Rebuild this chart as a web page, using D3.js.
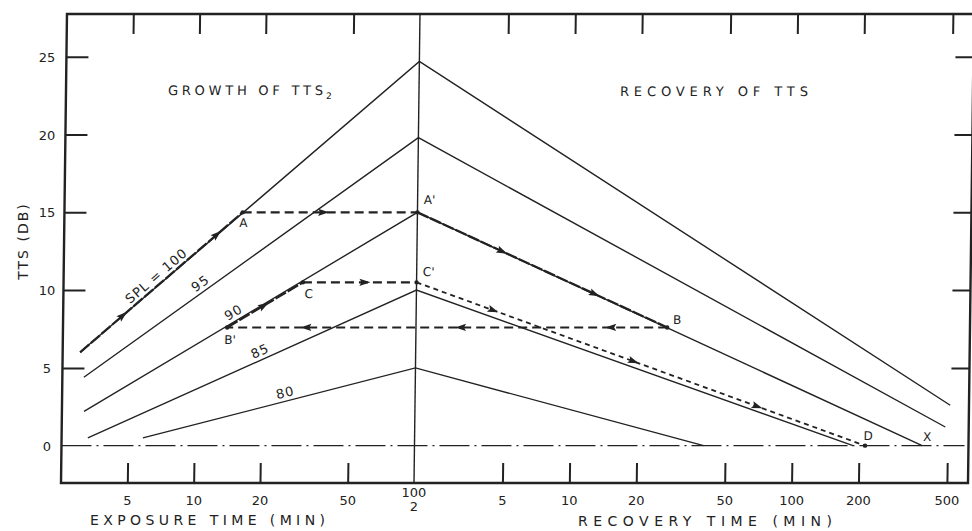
<!DOCTYPE html>
<html>
<head>
<meta charset="utf-8">
<script src="https://cdn.jsdelivr.net/npm/d3@7"></script>
<style>
  body { margin: 0; background: #fff; }
  svg { display: block; }
  text { font-family: "DejaVu Sans", sans-serif; fill: #222; }
</style>
</head>
<body>
<div id="chart"></div>
<script>
// Growth curves (exposure side), one per SPL
const splLevels = [100, 95, 90, 85, 80];
const growthStartMin = [3.0, 3.13, 3.15, 3.29, 5.85];
const growthStartTts = [6.0, 4.4, 2.2, 0.5, 0.5];
const peakTts = [24.7, 19.8, 15.0, 10.0, 5.0];
// Recovery curves, same order
const recoveryEndMin = [512, 488, 385, 188, 40];
const recoveryEndTts = [2.6, 1.2, 0, 0, 0];
// where the SPL labels sit on the growth curves (min)
const splLabelMin = [6.98, 11.0, 15.5, 20.4, 26.3];
const splLabelText = ['SPL = 100', '95', '90', '85', '80'];

// Worked example A -> A' -> B -> B' -> C -> C' -> D
const pathNames = ['A', "A'", 'B', "B'", 'C', "C'", 'D'];
const pathSide = ['exp', 'rec', 'rec', 'exp', 'exp', 'rec', 'rec'];
const pathMin = [16.1, 2, 27, 13.9, 30.5, 2, 213];
const pathTts = [15, 15, 7.6, 7.6, 10.5, 10.5, 0];
// segment i goes from point i-1 to point i (segment 0 starts on the SPL 100 curve)
const segStyle = ['heavy', 'dash', 'heavy', 'dash', 'heavy', 'dash', 'dot'];

// arrow heads along the path
const arrowSeg = [0, 0, 1, 2, 2, 3, 3, 3, 4, 5, 6, 6, 6];
const arrowSide = ['exp', 'exp', 'exp', 'rec', 'rec', 'rec', 'rec', 'exp', 'exp', 'exp', 'rec', 'rec', 'rec'];
const arrowMin = [4.8, 12.7, 38.9, 5.0, 13.1, 14.5, 3.06, 30.5, 21, 60.5, 4.6, 19.8, 71.8];

// Axis ticks
const exposureTicks = [5, 10, 20, 50];
const recoveryTicks = [5, 10, 20, 50, 100, 200, 500];
const ttsTicks = [5, 10, 15, 20, 25];
const ttsLabels = [0, 5, 10, 15, 20, 25];

const width = 972, height = 531;
const plotLeft = 61, plotMid = 414, plotRight = 968, plotTop = 14, plotBottom = 483;
const ink = '#222';

const xExp = d3.scaleLog().domain([2.5, 100]).range([plotLeft, plotMid]);
const xRec = d3.scaleLog().domain([2, 622]).range([plotMid, plotRight]);
const y = d3.scaleLinear().domain([-2.4, 27.75]).range([plotBottom, plotTop]);
const xOf = (side, t) => side === 'exp' ? xExp(t) : xRec(t);

const svg = d3.select('#chart').append('svg')
    .attr('width', width)
    .attr('height', height);

// the scanned figure leans a little: top edge sits ~6px right of the bottom
const g = svg.append('g')
    .attr('transform', `translate(0,${plotBottom}) skewX(-0.73) translate(0,${-plotBottom})`);

// frame
g.append('rect')
    .attr('x', plotLeft).attr('y', plotTop)
    .attr('width', plotRight - plotLeft).attr('height', plotBottom - plotTop)
    .attr('fill', 'none').attr('stroke', ink).attr('stroke-width', 2.4);

// ticks (inward, no labels)
function tickAxis(axis, transform) {
    const a = g.append('g').attr('transform', transform).call(axis);
    a.select('.domain').remove();
    a.selectAll('text').remove();
    a.selectAll('line').attr('stroke', ink).attr('stroke-width', 2);
}
tickAxis(d3.axisBottom(xExp).tickValues(exposureTicks).tickSizeInner(-20).tickSizeOuter(0), `translate(0,${plotBottom})`);
tickAxis(d3.axisBottom(xRec).tickValues(recoveryTicks).tickSizeInner(-20).tickSizeOuter(0), `translate(0,${plotBottom})`);
tickAxis(d3.axisTop(xExp).tickValues(exposureTicks).tickSizeInner(-20).tickSizeOuter(0), `translate(0,${plotTop})`);
tickAxis(d3.axisTop(xRec).tickValues(recoveryTicks).tickSizeInner(-20).tickSizeOuter(0), `translate(0,${plotTop})`);
tickAxis(d3.axisLeft(y).tickValues(ttsTicks).tickSizeInner(-22).tickSizeOuter(0), `translate(${plotLeft},0)`);
tickAxis(d3.axisRight(y).tickValues(ttsTicks).tickSizeInner(-18).tickSizeOuter(0), `translate(${plotRight},0)`);

// centre line (100 min exposure = 2 min recovery)
g.append('line')
    .attr('x1', plotMid).attr('x2', plotMid).attr('y1', plotTop).attr('y2', plotBottom)
    .attr('stroke', ink).attr('stroke-width', 1.4);

// zero line
g.append('line')
    .attr('x1', plotLeft).attr('x2', plotRight - 4).attr('y1', y(0)).attr('y2', y(0))
    .attr('stroke', ink).attr('stroke-width', 1.3)
    .attr('stroke-dasharray', '30,5,2,5');

// growth + recovery curves
const line = d3.line();
splLevels.forEach((spl, i) => {
    const pts = [
        [xExp(growthStartMin[i]), y(growthStartTts[i])],
        [xExp(100), y(peakTts[i])],
        [xRec(recoveryEndMin[i]), y(recoveryEndTts[i])]
    ];
    g.append('path')
        .attr('d', line(pts))
        .attr('fill', 'none')
        .attr('stroke', ink)
        .attr('stroke-width', 1.4);

    // label sitting on the growth curve
    const [x0, y0] = pts[0], [x1, y1] = pts[1];
    const lx = xExp(splLabelMin[i]);
    const ly = y0 + (y1 - y0) * (lx - x0) / (x1 - x0);
    const ang = Math.atan2(y1 - y0, x1 - x0) * 180 / Math.PI;
    g.append('text')
        .attr('transform', `translate(${lx},${ly}) rotate(${ang})`)
        .attr('text-anchor', 'middle')
        .attr('dy', -4)
        .attr('font-size', 13)
        .attr('letter-spacing', 1)
        .text(splLabelText[i]);
});

// worked example path
const pathPts = pathNames.map((n, i) => [xOf(pathSide[i], pathMin[i]), y(pathTts[i])]);
const segs = pathPts.map((p, i) => [
    i === 0 ? [xExp(growthStartMin[0]), y(growthStartTts[0])] : pathPts[i - 1],
    p
]);
const segDash = { heavy: '12,2', dash: '9,5', dot: '5,4' };
const segWidth = { heavy: 2.3, dash: 2.1, dot: 1.8 };
segs.forEach((s, i) => {
    g.append('path')
        .attr('d', line(s))
        .attr('fill', 'none')
        .attr('stroke', ink)
        .attr('stroke-width', segWidth[segStyle[i]])
        .attr('stroke-dasharray', segDash[segStyle[i]]);
});

// arrow heads
arrowSeg.forEach((si, i) => {
    const [[x0, y0], [x1, y1]] = segs[si];
    const ax = xOf(arrowSide[i], arrowMin[i]);
    const ay = y0 + (y1 - y0) * (ax - x0) / (x1 - x0);
    const ang = Math.atan2(y1 - y0, x1 - x0) * 180 / Math.PI;
    g.append('path')
        .attr('d', 'M2,0 L-9,-3.6 L-7,0 L-9,3.6 Z')
        .attr('transform', `translate(${ax},${ay}) rotate(${ang})`)
        .attr('fill', ink);
});

// point dots + letters
const pointOffset = { 'A': [1, 15], "A'": [12, -8], 'B': [10, -3], "B'": [3, 17], 'C': [6, 16], "C'": [12, -6], 'D': [3, -6] };
g.selectAll('.pt')
    .data(pathPts)
    .enter()
    .append('circle')
    .attr('cx', d => d[0]).attr('cy', d => d[1])
    .attr('r', 2.2).attr('fill', ink);
g.selectAll('.ptlabel')
    .data(pathPts)
    .enter()
    .append('text')
    .attr('x', (d, i) => d[0] + pointOffset[pathNames[i]][0])
    .attr('y', (d, i) => d[1] + pointOffset[pathNames[i]][1])
    .attr('text-anchor', 'middle')
    .attr('font-size', 12)
    .text((d, i) => pathNames[i]);
// X marks where the 15 dB curve recovers fully
g.append('text')
    .attr('x', xRec(recoveryEndMin[2]) + 5)
    .attr('y', y(0) - 5)
    .attr('text-anchor', 'middle')
    .attr('font-size', 12)
    .text('X');

// panel titles
g.append('text')
    .attr('x', 163).attr('y', 95)
    .attr('font-size', 13)
    .attr('textLength', 155).attr('lengthAdjust', 'spacing')
    .text('GROWTH OF TTS');
g.append('text')
    .attr('x', 321).attr('y', 99)
    .attr('font-size', 9)
    .text('2');
g.append('text')
    .attr('x', 615).attr('y', 96)
    .attr('font-size', 13)
    .attr('textLength', 188).attr('lengthAdjust', 'spacing')
    .text('RECOVERY OF TTS');

// tick labels (outside the skew)
svg.selectAll('.ylab')
    .data(ttsLabels)
    .enter()
    .append('text')
    .attr('x', 47)
    .attr('y', d => y(d) + 5)
    .attr('text-anchor', 'middle')
    .attr('font-size', 13)
    .text(d => d);

svg.selectAll('.xlab-exp')
    .data(exposureTicks)
    .enter()
    .append('text')
    .attr('x', d => xExp(d))
    .attr('y', 505)
    .attr('text-anchor', 'middle')
    .attr('font-size', 13)
    .text(d => d);
svg.selectAll('.xlab-rec')
    .data(recoveryTicks)
    .enter()
    .append('text')
    .attr('x', d => xRec(d))
    .attr('y', 505)
    .attr('text-anchor', 'middle')
    .attr('font-size', 13)
    .text(d => d);
svg.append('text')
    .attr('x', xExp(100)).attr('y', 497)
    .attr('text-anchor', 'middle').attr('font-size', 13)
    .text('100');
svg.append('text')
    .attr('x', xRec(2)).attr('y', 511)
    .attr('text-anchor', 'middle').attr('font-size', 13)
    .text('2');

// axis titles
svg.append('text')
    .attr('x', 90).attr('y', 525)
    .attr('font-size', 14)
    .attr('textLength', 235).attr('lengthAdjust', 'spacing')
    .text('EXPOSURE TIME (MIN)');
svg.append('text')
    .attr('x', 578).attr('y', 526)
    .attr('font-size', 14)
    .attr('textLength', 254).attr('lengthAdjust', 'spacing')
    .text('RECOVERY TIME (MIN)');
svg.append('text')
    .attr('transform', 'translate(28,241) rotate(-90)')
    .attr('text-anchor', 'middle')
    .attr('font-size', 14)
    .attr('letter-spacing', 2)
    .text('TTS (DB)');
</script>
</body>
</html>
